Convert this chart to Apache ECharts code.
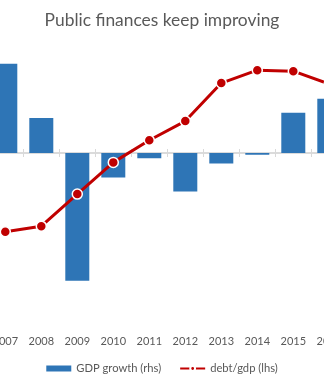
<!DOCTYPE html>
<html>
<head>
<meta charset="utf-8">
<script src="https://cdn.jsdelivr.net/npm/echarts@6/dist/echarts.min.js"></script>
<style>html,body{margin:0;padding:0;background:#fff}#c{width:324px;height:388px}</style>
</head>
<body>
<div id="c"></div>
<script>
const years = ['2007','2008','2009','2010','2011','2012','2013','2014','2015','2016'];
const gdpGrowth = [5.1, 2.0, -7.3, -1.4, -0.3, -2.2, -0.6, -0.1, 2.3, 3.1];
const debtToGdp = [37.7, 39.4, 49.1, 58.7, 65.4, 71.2, 82.7, 86.6, 86.3, 82.4];

const chart = echarts.init(document.getElementById('c'), null, {renderer: 'canvas'});
const font = 'Lato, "Open Sans", sans-serif';
const gridColor = '#D9D9D9';
const catAxisBase = {
  type: 'category', data: years, gridIndex: 0, position: 'bottom', boundaryGap: true
};
chart.setOption({
  animation: false,
  title: {
    text: 'Public finances keep improving', left: 'center', top: 12, padding: [0, 0, 0, 2],
    textStyle: {fontFamily: font, fontSize: 17.4, fontWeight: 'normal', color: '#595959'}
  },
  legend: {
    bottom: 14, left: 'center', itemWidth: 25, itemHeight: 6, itemGap: 18, padding: [0, 0, 0, 6],
    textStyle: {fontFamily: font, fontSize: 11.2, color: '#595959'},
    data: [
      {name: 'GDP growth (rhs)', icon: 'rect'},
      {name: 'debt/gdp (lhs)'}
    ]
  },
  grid: {left: -12.7, right: -23.3, top: 48, bottom: 60, containLabel: false, outerBoundsMode: 'none'},
  xAxis: [
    Object.assign({}, catAxisBase, {
      axisLine: {show: true, onZero: true, onZeroAxisIndex: 1, lineStyle: {color: gridColor, width: 1.5}},
      axisTick: {show: true, inside: false, length: 4, interval: 0, lineStyle: {color: gridColor, width: 1}},
      axisLabel: {show: false}, splitLine: {show: false}
    }),
    Object.assign({}, catAxisBase, {
      axisLine: {show: true, onZero: true, onZeroAxisIndex: 1, lineStyle: {color: gridColor, width: 1.5}},
      axisTick: {show: true, inside: true, length: 4, interval: 0, lineStyle: {color: gridColor, width: 1}},
      axisLabel: {show: false}, splitLine: {show: false}
    }),
    Object.assign({}, catAxisBase, {
      axisLine: {show: false, onZero: false},
      axisTick: {show: false},
      axisLabel: {show: true, interval: 0, margin: 8, color: '#595959', fontFamily: font, fontSize: 11},
      splitLine: {show: false}
    })
  ],
  yAxis: [
    {type: 'value', min: 8.6, max: 93.3, show: false, splitLine: {show: false}},
    {type: 'value', min: -10, max: 6, show: false, splitLine: {show: false}}
  ],
  series: [
    {
      name: 'GDP growth (rhs)', type: 'bar', xAxisIndex: 0, yAxisIndex: 1,
      data: gdpGrowth, barWidth: 24,
      itemStyle: {color: '#2E75B6'}, z: 2
    },
    {
      name: 'debt/gdp (lhs)', type: 'line', xAxisIndex: 0, yAxisIndex: 0,
      data: debtToGdp, symbol: 'circle', symbolSize: 10,
      lineStyle: {color: '#C00000', width: 3},
      itemStyle: {color: '#C00000', borderColor: '#fff', borderWidth: 1.5},
      z: 5
    }
  ]
});
</script>
</body>
</html>
